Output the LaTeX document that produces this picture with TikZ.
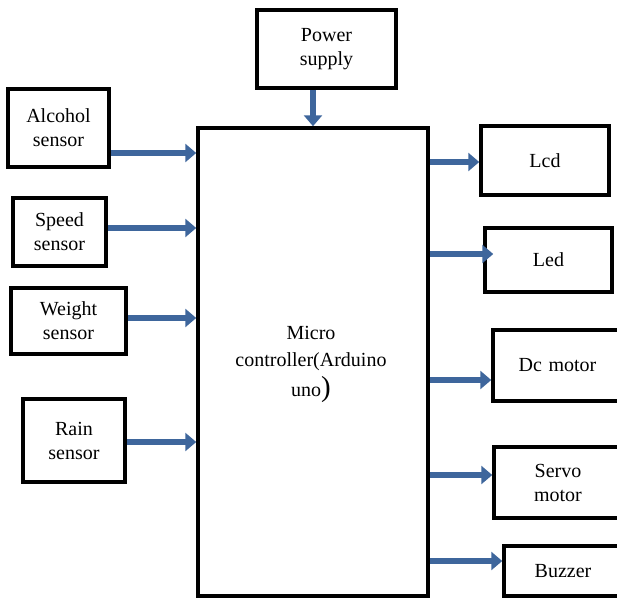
\documentclass[tikz,border=0pt]{standalone}
\usepackage{fontspec}
\setmainfont{Liberation Serif}
\usetikzlibrary{arrows.meta}
\definecolor{arrowblue}{RGB}{62,102,156}
\begin{document}
\begin{tikzpicture}[x=1pt,y=-1pt,
  box/.style={draw=black, line width=3.5pt, fill=white, inner sep=0pt, align=center,
    font=\fontsize{20}{24}\selectfont},
  arr/.style={line width=6.5pt, draw=arrowblue, -{Triangle[length=11pt,width=18pt]}}]
\useasboundingbox (0,0) rectangle (617,598);
\begin{scope}
\clip (0,0) rectangle (617,598);
\node[box, minimum width=139pt, minimum height=78pt] (ps) at (326.5,49) {Power\\supply};
\node[box, minimum width=101pt, minimum height=78pt] (alc) at (58.5,128) {Alcohol\\sensor};
\node[box, minimum width=93pt, minimum height=68pt] (spd) at (59.5,232) {Speed\\sensor};
\node[box, minimum width=115pt, minimum height=66pt] (wgt) at (68.5,321) {Weight\\sensor};
\node[box, minimum width=102pt, minimum height=83pt] (rain) at (74,440.5) {Rain\\sensor};
\node[box, minimum width=230pt, minimum height=468pt] (main) at (313,362) {};
\node[font=\fontsize{20}{27}\selectfont, align=center] (mtxt) at (311,364)
  {Micro\\controller(Arduino\\[3pt]uno{\fontsize{29}{29}\selectfont)}};
\node[box, minimum width=128pt, minimum height=69pt] (lcd) at (545,160.5) {Lcd};
\node[box, minimum width=127pt, minimum height=64pt] (led) at (548.5,260) {Led};
\node[box, minimum width=129pt, minimum height=71pt, text width=120pt] (dc) at (557.5,365.5) {Dc motor};
\node[box, minimum width=128pt, minimum height=71pt, text width=120pt] (servo) at (558,482.5) {Servo\\motor};
\node[box, minimum width=118pt, minimum height=50pt, text width=110pt] (buz) at (563,571) {Buzzer};
\end{scope}
% inputs
\draw[arr] (main.north |- ps.south) -- (main.north);
\draw[arr] (alc.east |- 0,153) -- (main.west |- 0,153);
\draw[arr] (spd.east |- 0,228) -- (main.west |- 0,228);
\draw[arr] (wgt.east |- 0,318) -- (main.west |- 0,318);
\draw[arr] (rain.east |- 0,442) -- (main.west |- 0,442);
% outputs
\draw[arr] (main.east |- 0,162) -- (lcd.west |- 0,162);
\draw[arr] (main.east |- 0,254) -- ([xshift=10pt]led.west |- 0,254);
\draw[arr] (main.east |- 0,380) -- (dc.west |- 0,380);
\draw[arr] (main.east |- 0,475) -- (servo.west |- 0,475);
\draw[arr] (main.east |- 0,561) -- (buz.west |- 0,561);
\end{tikzpicture}
\end{document}
